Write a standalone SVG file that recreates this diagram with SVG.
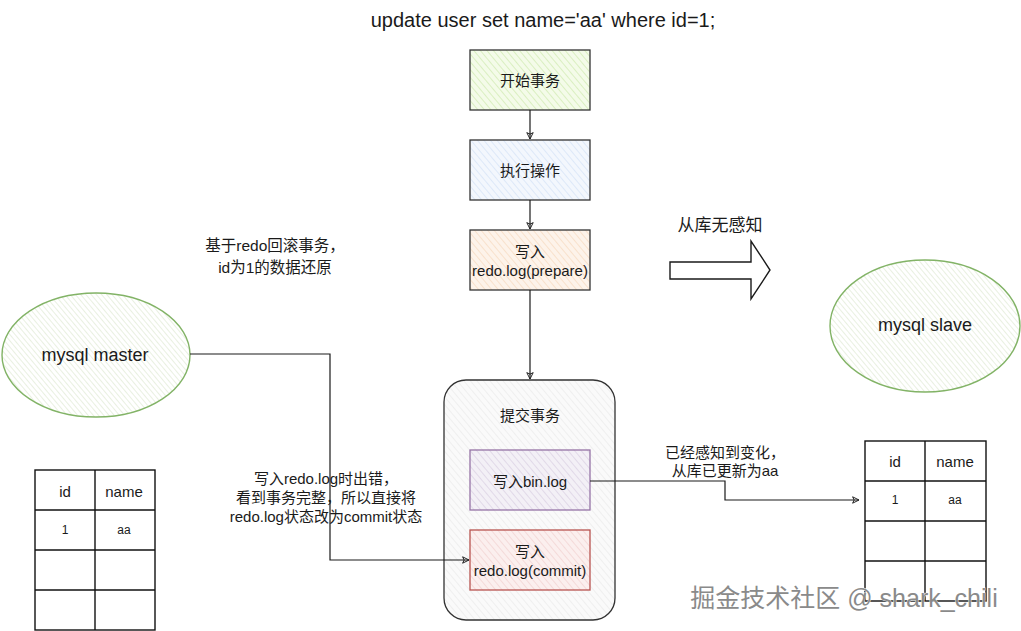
<svg xmlns="http://www.w3.org/2000/svg" width="1021" height="631" viewBox="0 0 1021 631">
<defs>
<pattern id="hGreen" patternUnits="userSpaceOnUse" width="5" height="5" patternTransform="rotate(-40)"><rect width="5" height="5" fill="#f4fbe9"/><line x1="0" y1="0" x2="0" y2="5" stroke="#d2ebb4" stroke-width="1.5"/></pattern>
<pattern id="hBlue" patternUnits="userSpaceOnUse" width="5" height="5" patternTransform="rotate(-40)"><rect width="5" height="5" fill="#f3f7fd"/><line x1="0" y1="0" x2="0" y2="5" stroke="#d6e4f7" stroke-width="1.5"/></pattern>
<pattern id="hOrange" patternUnits="userSpaceOnUse" width="5" height="5" patternTransform="rotate(-40)"><rect width="5" height="5" fill="#fdf3ea"/><line x1="0" y1="0" x2="0" y2="5" stroke="#f7dcc2" stroke-width="1.5"/></pattern>
<pattern id="hPurple" patternUnits="userSpaceOnUse" width="5" height="5" patternTransform="rotate(-40)"><rect width="5" height="5" fill="#f3f0f6"/><line x1="0" y1="0" x2="0" y2="5" stroke="#dcd2e4" stroke-width="1.5"/></pattern>
<pattern id="hRed" patternUnits="userSpaceOnUse" width="5" height="5" patternTransform="rotate(-40)"><rect width="5" height="5" fill="#fbefee"/><line x1="0" y1="0" x2="0" y2="5" stroke="#f2d4d2" stroke-width="1.5"/></pattern>
<pattern id="hGray" patternUnits="userSpaceOnUse" width="5" height="5" patternTransform="rotate(-40)"><rect width="5" height="5" fill="#fafafa"/><line x1="0" y1="0" x2="0" y2="5" stroke="#ececec" stroke-width="1.5"/></pattern>
<pattern id="hEll" patternUnits="userSpaceOnUse" width="4" height="4" patternTransform="rotate(-40)"><rect width="4" height="4" fill="#ffffff"/><line x1="0" y1="0" x2="0" y2="4" stroke="#dde8d2" stroke-width="1.3"/></pattern>
<marker id="arr" viewBox="0 0 10 10" refX="9" refY="5" markerWidth="8" markerHeight="8" orient="auto" markerUnits="userSpaceOnUse"><path d="M1,1 L9,5 L1,9 L3,5 Z" fill="none" stroke="#1a1a1a" stroke-width="1.2"/></marker>
</defs>
<style>
text{font-family:"Liberation Sans","Noto Sans CJK SC",sans-serif;fill:#1a1a1a;text-anchor:middle;dominant-baseline:central}
.lbl{font-size:15px}
.sm{font-size:12px}
.box{stroke:#333;stroke-width:1.3}
.conn{fill:none;stroke:#1a1a1a;stroke-width:1.2}
.tbl{fill:none;stroke:#111;stroke-width:1.4}
.ell{stroke:#82b366;stroke-width:1.4;fill:url(#hEll)}
</style>
<rect width="1021" height="631" fill="#ffffff"/>

<text x="543" y="20" style="font-size:20px">update user set name='aa' where id=1;</text>

<g id="start"><rect class="box" x="470" y="50" width="120" height="60" fill="url(#hGreen)"/><text class="lbl" x="530" y="80">开始事务</text></g>
<g id="exec"><rect class="box" x="470" y="140" width="120" height="60" fill="url(#hBlue)"/><text class="lbl" x="530" y="170">执行操作</text></g>
<g id="prepare"><rect class="box" x="470" y="230" width="120" height="60" fill="url(#hOrange)"/><text class="lbl" x="530" y="251">写入</text><text class="lbl" x="530" y="270">redo.log(prepare)</text></g>

<g id="commitTx"><rect x="444" y="380" width="171" height="240" rx="22" fill="url(#hGray)" stroke="#333" stroke-width="1.3"/><text class="lbl" x="530" y="415">提交事务</text></g>
<g id="binlog"><rect x="470" y="450" width="120" height="60" fill="url(#hPurple)" stroke="#9673a6" stroke-width="1.3"/><text class="lbl" x="530" y="481">写入bin.log</text></g>
<g id="redocommit"><rect x="470" y="530" width="120" height="60" fill="url(#hRed)" stroke="#b85450" stroke-width="1.3"/><text class="lbl" x="530" y="551">写入</text><text class="lbl" x="530" y="570">redo.log(commit)</text></g>

<g id="master"><ellipse class="ell" cx="96" cy="355" rx="94" ry="62"/><text x="95" y="355" style="font-size:18px">mysql master</text></g>
<g id="slave"><ellipse class="ell" cx="925" cy="326" rx="95" ry="66"/><text x="925" y="325" style="font-size:18px">mysql slave</text></g>

<g id="masterTable">
<rect class="tbl" x="35" y="470" width="120" height="160"/>
<line class="tbl" x1="95" y1="470" x2="95" y2="630"/>
<line class="tbl" x1="35" y1="510" x2="155" y2="510"/>
<line class="tbl" x1="35" y1="550" x2="155" y2="550"/>
<line class="tbl" x1="35" y1="590" x2="155" y2="590"/>
<text class="lbl" x="65" y="491">id</text><text class="lbl" x="124" y="491">name</text>
<text class="sm" x="65" y="530">1</text><text class="sm" x="124" y="530">aa</text>
</g>

<g id="slaveTable">
<rect class="tbl" x="865" y="441" width="121" height="160"/>
<line class="tbl" x1="925" y1="441" x2="925" y2="601"/>
<line class="tbl" x1="865" y1="481" x2="986" y2="481"/>
<line class="tbl" x1="865" y1="521" x2="986" y2="521"/>
<line class="tbl" x1="865" y1="561" x2="986" y2="561"/>
<text class="lbl" x="895" y="461">id</text><text class="lbl" x="955" y="461">name</text>
<text class="sm" x="895" y="500">1</text><text class="sm" x="955" y="500">aa</text>
</g>

<g id="bigArrow"><path d="M670,262 L751,262 L751,241 L770,270 L751,299 L751,279 L670,279 Z" fill="#ffffff" stroke="#1a1a1a" stroke-width="1.4"/><text x="720" y="225" style="font-size:17px">从库无感知</text></g>

<g id="connectors">
<path class="conn" d="M530,110 L530,139" marker-end="url(#arr)"/>
<path class="conn" d="M530,200 L530,229" marker-end="url(#arr)"/>
<path class="conn" d="M530,290 L530,379" marker-end="url(#arr)"/>
<path class="conn" d="M190,354 L330,354 L330,560 L469,560" marker-end="url(#arr)"/>
<path class="conn" d="M590,481 L725,481 L725,500 L859,500" marker-end="url(#arr)"/>
</g>

<g id="labels">
<text x="275" y="245" style="font-size:15.5px">基于redo回滚事务，</text>
<text x="275" y="267" style="font-size:15.5px">id为1的数据还原</text>
<text class="lbl" x="326" y="478">写入redo.log时出错，</text>
<text class="lbl" x="326" y="497">看到事务完整，所以直接将</text>
<text class="lbl" x="326" y="516">redo.log状态改为commit状态</text>
<text class="lbl" x="725" y="452">已经感知到变化，</text>
<text class="lbl" x="725" y="470">从库已更新为aa</text>
</g>

<text x="844" y="598" style="font-size:25px;fill:#8a8a8a;stroke:#ffffff;stroke-width:0.8;paint-order:stroke">掘金技术社区 @ shark_chili</text>
</svg>
